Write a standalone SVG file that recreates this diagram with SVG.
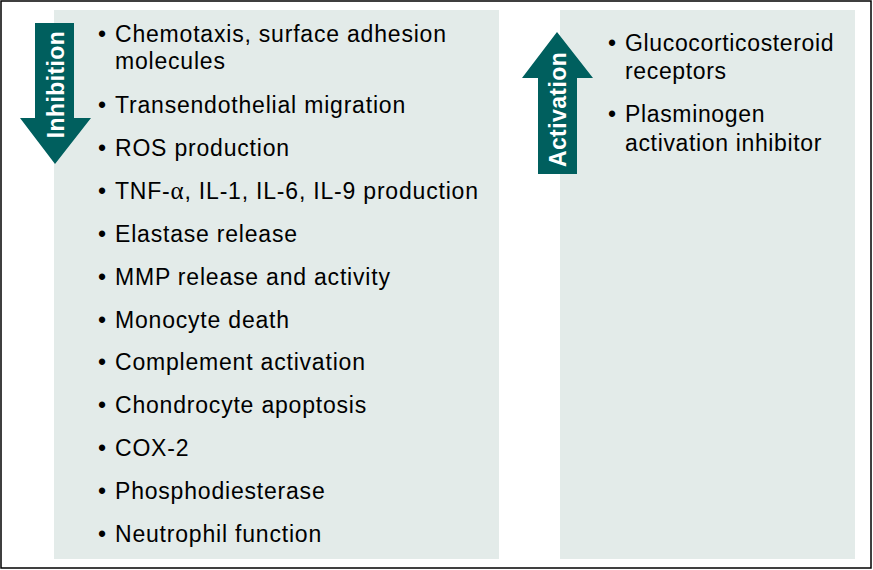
<svg xmlns="http://www.w3.org/2000/svg" width="873" height="570" viewBox="0 0 873 570">
<style>
.panel{fill:#e3ebe9;}
.arrow{fill:#005f5e;}
.lbl{font-family:"Liberation Sans",Arial,sans-serif;font-size:23px;font-weight:bold;fill:#ffffff;text-anchor:middle;letter-spacing:0.4px;}
.t{font-family:"Liberation Sans",Arial,sans-serif;font-size:23px;fill:#000000;letter-spacing:0.8px;}
.r{letter-spacing:0.65px;}
</style>
<rect x="0" y="0" width="873" height="570" fill="#ffffff"/>
<rect x="1" y="1" width="870" height="567" fill="none" stroke="#000000" stroke-width="1.5"/>
<g id="inhibition-panel">
<rect class="panel" x="54" y="10" width="445" height="549"/>
<text class="t" x="98" y="41.7">•</text><text class="t" x="115" y="41.7">Chemotaxis, surface adhesion</text>
<text class="t" x="115" y="69.3">molecules</text>
<text class="t" x="98" y="113.3">•</text><text class="t" x="115" y="113.3">Transendothelial migration</text>
<text class="t" x="98" y="156.1">•</text><text class="t" x="115" y="156.1">ROS production</text>
<text class="t" x="98" y="199">•</text><text class="t" x="115" y="199">TNF-<tspan font-family="'Liberation Serif',serif" font-size="25px">α</tspan>, IL-1, IL-6, IL-9 production</text>
<text class="t" x="98" y="241.8">•</text><text class="t" x="115" y="241.8">Elastase release</text>
<text class="t" x="98" y="284.7">•</text><text class="t" x="115" y="284.7">MMP release and activity</text>
<text class="t" x="98" y="327.5">•</text><text class="t" x="115" y="327.5">Monocyte death</text>
<text class="t" x="98" y="370.3">•</text><text class="t" x="115" y="370.3">Complement activation</text>
<text class="t" x="98" y="413.2">•</text><text class="t" x="115" y="413.2">Chondrocyte apoptosis</text>
<text class="t" x="98" y="456">•</text><text class="t" x="115" y="456">COX-2</text>
<text class="t" x="98" y="498.9">•</text><text class="t" x="115" y="498.9">Phosphodiesterase</text>
<text class="t" x="98" y="541.7">•</text><text class="t" x="115" y="541.7">Neutrophil function</text>
</g>
<g id="activation-panel">
<rect class="panel" x="560" y="10" width="295" height="549"/>
<text class="t" x="608" y="51">•</text><text class="t r" x="625" y="51">Glucocorticosteroid</text>
<text class="t r" x="625" y="78.5">receptors</text>
<text class="t" x="608" y="122">•</text><text class="t r" x="625" y="122">Plasminogen</text>
<text class="t r" x="625" y="151">activation inhibitor</text>
</g>
<g id="inhibition-arrow">
<polygon class="arrow" points="35,23 74,23 74,118 91,118 55,164 20,118 35,118"/>
<text class="lbl" transform="translate(64,84.5) rotate(-90)" x="0" y="0">Inhibition</text>
</g>
<g id="activation-arrow">
<polygon class="arrow" points="557,32 593,78 577,78 577,174 538,174 538,78 522,78"/>
<text class="lbl" transform="translate(566,109.5) rotate(-90)" x="0" y="0">Activation</text>
</g>
</svg>
